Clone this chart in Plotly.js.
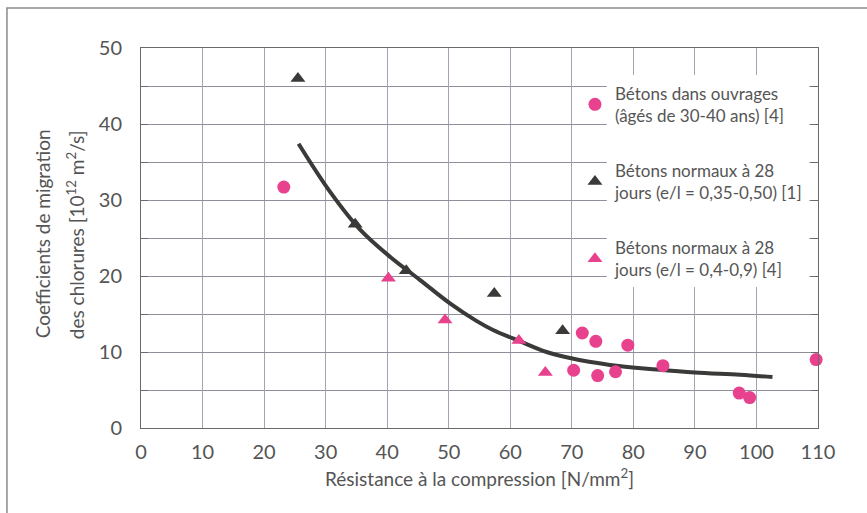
<!DOCTYPE html>
<html>
<head>
<meta charset="utf-8">
<script src="https://cdn.plot.ly/plotly-3.0.1.min.js"></script>
<style>html,body{margin:0;padding:0;background:#fff;}#chart{width:867px;height:513px;}</style>
</head>
<body>
<div id="chart"></div>
<script>
// Bétons dans ouvrages (âgés de 30-40 ans) [4]
const ouvragesX = [23.2, 70.3, 71.7, 73.9, 74.2, 77.1, 79.1, 84.8, 97.2, 98.9, 109.7];
const ouvragesY = [31.7, 7.6, 12.5, 11.4, 6.9, 7.4, 10.9, 8.2, 4.6, 4.0, 9.0];
// Bétons normaux à 28 jours (e/l = 0,35-0,50) [1]
const normaux1X = [25.5, 34.8, 43.1, 57.4, 68.5];
const normaux1Y = [46.0, 26.8, 20.7, 17.7, 12.8];
// Bétons normaux à 28 jours (e/l = 0,4-0,9) [4]
const normaux4X = [40.2, 49.4, 61.4, 65.7];
const normaux4Y = [19.7, 14.2, 11.5, 7.3];
// Courbe de tendance
const curveX = [25.6, 30.7, 35.6, 40.5, 45.3, 50.2, 54.5, 57.2, 61.6, 65.9, 69.7, 76.2, 83.8, 90.0, 97.3, 102.6];
const curveY = [37.4, 31.1, 26.1, 22.5, 19.5, 16.4, 14.1, 12.9, 11.4, 10.0, 9.2, 8.3, 7.7, 7.3, 7.0, 6.7];

const xTicks = [0, 10, 20, 30, 40, 50, 60, 70, 80, 90, 100, 110];
const yTicks = [0, 10, 20, 30, 40, 50];

const names = [
  "Bétons dans ouvrages<br>(âgés de 30-40 ans) [4]",
  "Bétons normaux à 28<br>jours (e/l = 0,35-0,50) [1]",
  "Bétons normaux à 28<br>jours (e/l = 0,4-0,9) [4]"
];
const yTitleLines = [
  "Coefficients de migration",
  "des chlorures [10<sup>12</sup> m<sup>2</sup>/s]"
];

const pink = "#e8418d";
const dark = "#3b3a38";
const font = "Lato, 'Liberation Sans', sans-serif";

const traces = [
  {x: curveX, y: curveY, mode: "lines", line: {shape: "spline", color: dark, width: 4}, showlegend: false, hoverinfo: "skip"},
  {x: ouvragesX, y: ouvragesY, mode: "markers", name: names[0], legendgroup: "a",
   marker: {symbol: "circle", size: 13, color: pink}, cliponaxis: false},
  {x: normaux1X, y: normaux1Y, mode: "markers", name: names[1], legendgroup: "b",
   marker: {symbol: "triangle-up", size: 13, color: dark}, cliponaxis: false},
  {x: normaux4X, y: normaux4Y, mode: "markers", name: names[2], legendgroup: "c",
   marker: {symbol: "triangle-up", size: 13, color: pink}, cliponaxis: false}
];

const layout = {
  width: 867, height: 513,
  margin: {l: 141, r: 49, t: 48, b: 85, pad: 0},
  paper_bgcolor: "#fff", plot_bgcolor: "#fff",
  font: {family: font, color: "#555", size: 16},
  xaxis: {
    range: [0, 110], tickvals: xTicks, ticktext: xTicks.map(String),
    showgrid: true, gridcolor: "#a3a3b3", gridwidth: 1,
    showline: true, linecolor: "#6a6a6a", linewidth: 1, mirror: true,
    zeroline: false, ticks: "", ticklabelstandoff: 6,
    tickfont: {size: 20, color: "#555", family: font},
    title: {text: "Résistance à la compression [N/mm<sup>2</sup>]", font: {size: 19, color: "#555", family: font}, standoff: 10}
  },
  yaxis: {
    range: [0, 50], tickvals: yTicks, ticktext: yTicks.map(String),
    showgrid: true, gridcolor: "#8f8f9c", gridwidth: 1,
    minor: {dtick: 5, showgrid: true, gridcolor: "#8f8f9c", gridwidth: 1, ticks: "inside", ticklen: 7, tickcolor: "#6a6a6a"},
    showline: true, linecolor: "#6a6a6a", linewidth: 1, mirror: "ticks",
    zeroline: false, ticks: "inside", ticklen: 7, tickcolor: "#6a6a6a", ticklabelstandoff: 14,
    tickfont: {size: 20, color: "#555", family: font}
  },
  legend: {
    x: 0.641, y: 0.927, xanchor: "left", yanchor: "top",
    bgcolor: "rgba(0,0,0,0)", borderwidth: 0,
    traceorder: "grouped", tracegroupgap: 30,
    font: {size: 17, color: "#555", family: font}
  },
  annotations: [
    {text: yTitleLines[0], xref: "paper", yref: "paper", x: -0.146, y: 0.51, textangle: -90,
     showarrow: false, xanchor: "center", yanchor: "middle", font: {size: 19, color: "#555", family: font}},
    {text: yTitleLines[1], xref: "paper", yref: "paper", x: -0.0975, y: 0.51, textangle: -90,
     showarrow: false, xanchor: "center", yanchor: "middle", font: {size: 19, color: "#555", family: font}}
  ],
  shapes: [
    {type: "rect", xref: "paper", yref: "paper", x0: 0.688, x1: 0.987, y0: 0.371, y1: 0.929,
     fillcolor: "#fff", line: {width: 0}, layer: "above"},
    {type: "path", xref: "paper", yref: "paper", path: "M -0.198,-0.3 L -0.198,1.105 L 1.1,1.105",
     line: {color: "#8a8a8a", width: 1.5}, layer: "above"}
  ]
};

Plotly.newPlot("chart", traces, layout, {staticPlot: true});
</script>
</body>
</html>
